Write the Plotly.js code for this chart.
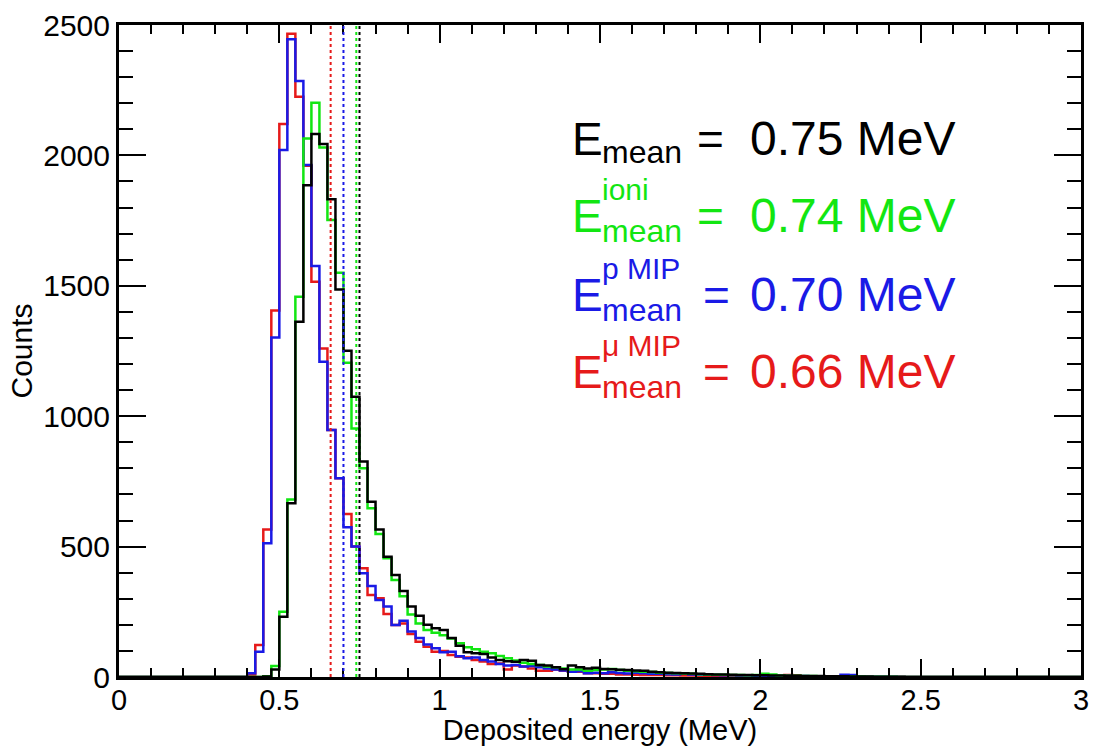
<!DOCTYPE html>
<html>
<head>
<meta charset="utf-8">
<script src="https://cdn.plot.ly/plotly-3.0.1.min.js"></script>
<style>
  html, body { margin: 0; padding: 0; background: #ffffff; }
  #chart { width: 1093px; height: 746px; }
</style>
</head>
<body>
<div id="chart"></div>
<script>
// Histogram binning: 120 bins of 0.025 MeV from 0 to 3 MeV
const ENERGY_MIN = 0;
const BIN_WIDTH = 0.025;
const N_BINS = 120;

// Counts per bin, all deposits (black)
const countsTotal = [
  0, 0, 0, 0, 0, 0, 0, 0, 0, 0, 0, 0, 0, 0, 0, 0, 0, 0, 2, 29,
  231, 666, 1362, 1886, 2082, 2044, 1832, 1486, 1251, 1075, 826, 672, 566, 461, 391, 330, 270, 235, 200, 187,
  180, 150, 120, 95, 91, 88, 75, 65, 60, 58, 65, 62, 46, 44, 37, 30, 44, 37, 33, 35,
  31, 30, 28, 27, 25, 24, 20, 18, 16, 15, 14, 13, 12, 11, 10, 10, 9, 8, 8, 7,
  7, 6, 6, 5, 5, 4, 4, 4, 3, 3, 3, 2, 2, 2, 1, 1, 1, 1, 0, 0,
  0, 0, 0, 0, 0, 0, 0, 0, 0, 0, 0, 0, 0, 0, 0, 0, 0, 0, 0, 0
];

// Counts per bin, ionisation only (green)
const countsIoni = [
  0, 0, 0, 0, 0, 0, 0, 0, 0, 0, 0, 0, 0, 0, 0, 0, 0, 0, 3, 42,
  250, 681, 1458, 2065, 2202, 2030, 1752, 1550, 1205, 953, 800, 647, 548, 455, 372, 310, 240, 205, 180, 170,
  160, 148, 129, 114, 106, 97, 91, 81, 72, 63, 55, 50, 46, 40, 37, 33, 29, 29, 24, 27,
  29, 31, 27, 24, 22, 20, 19, 16, 15, 14, 13, 12, 11, 10, 9, 9, 8, 8, 7, 8,
  12, 10, 6, 5, 5, 4, 4, 3, 3, 3, 2, 2, 2, 1, 1, 1, 1, 0, 0, 0,
  0, 0, 0, 0, 0, 0, 0, 0, 0, 0, 0, 0, 0, 0, 0, 0, 0, 0, 0, 0
];

// Counts per bin, proton MIP (blue)
const countsProtonMip = [
  0, 0, 0, 0, 0, 0, 0, 0, 0, 0, 0, 0, 0, 0, 0, 0, 14, 97, 513, 1302,
  2021, 2445, 2285, 1963, 1576, 1209, 947, 762, 574, 500, 398, 349, 295, 270, 199, 216, 174, 150, 125, 110,
  95, 97, 80, 72, 75, 65, 59, 50, 44, 46, 40, 42, 37, 33, 29, 25, 20, 22, 14, 16,
  14, 18, 15, 13, 16, 14, 12, 12, 11, 10, 12, 10, 9, 9, 8, 7, 7, 6, 6, 5,
  5, 4, 4, 5, 4, 4, 3, 3, 3, 2, 9, 8, 2, 1, 1, 1, 1, 0, 0, 0,
  0, 0, 0, 0, 0, 0, 0, 0, 0, 0, 0, 0, 0, 0, 0, 0, 0, 0, 0, 0
];

// Counts per bin, muon MIP (red)
const countsMuonMip = [
  0, 0, 0, 0, 0, 0, 0, 0, 0, 0, 0, 0, 0, 0, 0, 0, 10, 123, 566, 1405,
  2120, 2466, 2225, 1960, 1516, 1260, 947, 762, 625, 500, 417, 314, 302, 242, 199, 205, 165, 135, 116, 97,
  100, 84, 78, 75, 65, 59, 50, 52, 29, 44, 40, 33, 24, 24, 29, 24, 20, 20, 14, 14,
  12, 12, 10, 10, 9, 8, 8, 8, 7, 7, 6, 6, 5, 5, 5, 4, 4, 4, 3, 3,
  3, 3, 3, 8, 7, 2, 2, 2, 1, 1, 1, 1, 1, 0, 0, 0, 0, 0, 0, 0,
  0, 0, 0, 0, 0, 0, 0, 0, 0, 0, 0, 0, 0, 0, 0, 0, 0, 0, 0, 0
];

// Mean deposited energies (MeV) and the label decorations for each sample
const meanValues = [0.75, 0.74, 0.70, 0.66];
const meanSuperscripts = ['', 'ioni', 'p MIP', '\u03bc MIP'];
const meanSubscript = 'mean';

// Axis tick values
const xTickValues = [0, 0.5, 1, 1.5, 2, 2.5, 3];
const yTickValues = [0, 500, 1000, 1500, 2000, 2500];

const COLORS = ['#000000', '#12e612', '#1a1ae6', '#e61a1a']; // total, ioni, p MIP, mu MIP
const FONT = '"Liberation Sans", Arial, Helvetica, sans-serif';

// Bin edges used to draw the step outlines
const edges = [];
for (let i = 0; i <= N_BINS; i++) edges.push(+(ENERGY_MIN + i * BIN_WIDTH).toFixed(4));

function stepTrace(counts, color) {
  return {
    type: 'scatter',
    mode: 'lines',
    x: edges,
    y: counts.concat([counts[counts.length - 1]]),
    line: { shape: 'hv', color: color, width: 2.5 },
    hoverinfo: 'skip',
    showlegend: false
  };
}

// Draw order: mu MIP, p MIP, ionisation, total
const data = [
  stepTrace(countsMuonMip, COLORS[3]),
  stepTrace(countsProtonMip, COLORS[2]),
  stepTrace(countsIoni, COLORS[1]),
  stepTrace(countsTotal, COLORS[0])
];

// Plot frame in pixels
const W = 1093, H = 746;
const FRAME = { left: 119, right: 1081, top: 25, bottom: 677 };
const px = v => (v - FRAME.left) / (FRAME.right - FRAME.left);
const py = v => (FRAME.bottom - v) / (FRAME.bottom - FRAME.top);

// Dotted lines at the mean energies
const lineOrder = [3, 2, 1, 0];
const shapes = lineOrder.map(i => ({
  type: 'line', xref: 'x', yref: 'paper',
  x0: meanValues[i], x1: meanValues[i], y0: 0, y1: 1,
  line: { color: COLORS[i], width: 2, dash: '3px,3px' },
  layer: 'above'
}));

// Mean-energy labels: E with stacked super/subscript, "=", value
const rowBaselines = [155, 232, 311, 388];
const annotations = [];
function label(text, xPix, yMid, size, color) {
  annotations.push({
    xref: 'paper', yref: 'paper', x: px(xPix), y: py(yMid),
    xanchor: 'left', yanchor: 'middle', showarrow: false,
    text: text, font: { family: FONT, size: size, color: color }
  });
}
meanValues.forEach((v, i) => {
  const b = rowBaselines[i];
  const c = COLORS[i];
  label('E', 570, b - 0.3465 * 46, 46, c);
  label(meanSubscript, 600, b + (i === 0 ? 8 : 10) - 0.3465 * 32, 32, c);
  if (meanSuperscripts[i]) label(meanSuperscripts[i], 600, b - 32 - 0.3465 * 30, 30, c);
  label('=', i < 2 ? 695 : 701, b - 0.3465 * 46, 46, c);
  label(v.toFixed(2) + ' MeV', 748, b - 0.3465 * 48, 48, c);
});

const axisCommon = {
  showline: true, linecolor: '#000000', linewidth: 3, mirror: 'ticks',
  showgrid: false, zeroline: false,
  ticks: 'inside', tickcolor: '#000000', tickwidth: 2,
  tickmode: 'array'
};

const layout = {
  width: W, height: H,
  paper_bgcolor: '#ffffff', plot_bgcolor: '#ffffff',
  margin: { l: FRAME.left, r: W - FRAME.right, t: FRAME.top, b: H - FRAME.bottom, pad: 0 },
  font: { family: FONT, color: '#000000' },
  xaxis: Object.assign({}, axisCommon, {
    range: [0, 3],
    tickvals: xTickValues, ticktext: xTickValues.map(String),
    tickfont: { family: FONT, size: 29, color: '#000000' },
    ticklabelstandoff: -5,
    ticklen: 18,
    minor: { dtick: 0.1, tick0: 0, ticks: 'inside', ticklen: 9, tickwidth: 2, tickcolor: '#000000' },
    title: { text: 'Deposited energy (MeV)', font: { family: FONT, size: 29, color: '#000000' }, standoff: 1 }
  }),
  yaxis: Object.assign({}, axisCommon, {
    range: [0, 2500],
    tickvals: yTickValues, ticktext: yTickValues.map(String),
    tickfont: { family: FONT, size: 30, color: '#000000' },
    ticklen: 27,
    minor: { dtick: 100, tick0: 0, ticks: 'inside', ticklen: 14, tickwidth: 2, tickcolor: '#000000' },
    title: { text: 'Counts', font: { family: FONT, size: 30, color: '#000000' }, standoff: 2 }
  }),
  shapes: shapes,
  annotations: annotations,
  showlegend: false
};

Plotly.newPlot('chart', data, layout, { displayModeBar: false, staticPlot: true });
</script>
</body>
</html>
